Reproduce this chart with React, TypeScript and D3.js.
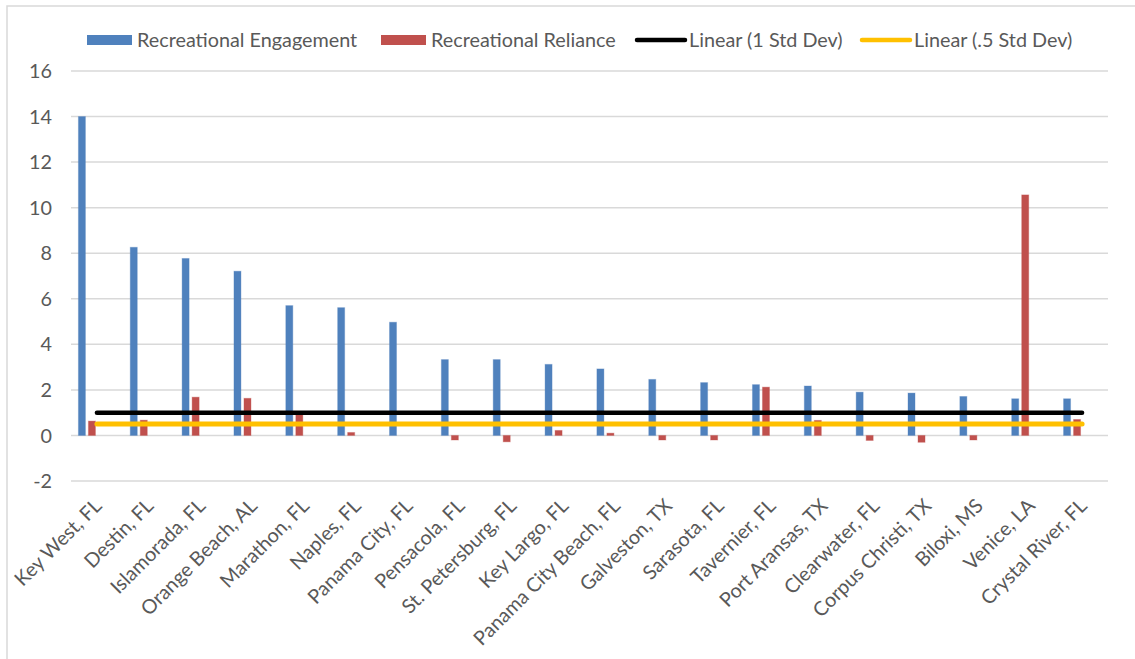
import React from "react";
import * as d3 from "d3";

const categories = [
  "Key West, FL", "Destin, FL", "Islamorada, FL", "Orange Beach, AL", "Marathon, FL",
  "Naples, FL", "Panama City, FL", "Pensacola, FL", "St. Petersburg, FL", "Key Largo, FL",
  "Panama City Beach, FL", "Galveston, TX", "Sarasota, FL", "Tavernier, FL", "Port Aransas, TX",
  "Clearwater, FL", "Corpus Christi, TX", "Biloxi, MS", "Venice, LA", "Crystal River, FL",
];

const engagement = [
  14.0, 8.26, 7.77, 7.21, 5.7, 5.61, 4.97, 3.33, 3.33, 3.12,
  2.92, 2.46, 2.32, 2.23, 2.17, 1.9, 1.86, 1.71, 1.61, 1.61,
];

const reliance = [
  0.63, 0.67, 1.68, 1.63, 0.92, 0.13, 0.0, -0.2, -0.28, 0.22,
  0.1, -0.2, -0.2, 2.12, 0.66, -0.22, -0.3, -0.2, 10.56, 0.7,
];

const seriesNames = ["Recreational Engagement", "Recreational Reliance", "1 Std Dev", ".5 Std Dev"];
const trendLevels = [1, 0.5];
const yTicks = [-2, 0, 2, 4, 6, 8, 10, 12, 14, 16];

const legendItems = [
  { label: "Recreational Engagement", kind: "bar", color: "#4F81BD" },
  { label: "Recreational Reliance", kind: "bar", color: "#C0504D" },
  { label: "Linear (1 Std Dev)", kind: "line", color: "#000000" },
  { label: "Linear (.5 Std Dev)", kind: "line", color: "#FFC000" },
];

const FONT = "Lato, 'Open Sans', sans-serif";
const TEXT = "#595959";
const FS = 19.8;

export default function App() {
  const W = 1135, H = 659;
  const plotLeft = 71, plotRight = 1108;
  const x = d3.scaleBand<string>().domain(categories).range([plotLeft, plotRight]).paddingInner(0).paddingOuter(0);
  const inner = d3.scaleBand<string>().domain(seriesNames).range([0, x.bandwidth()]).paddingInner(0.3).paddingOuter(0.74);
  const y = d3.scaleLinear().domain([-2, 16]).range([481, 71]);
  const bw = inner.bandwidth();

  const firstC = x(categories[0])! + x.bandwidth() / 2;
  const lastC = x(categories[categories.length - 1])! + x.bandwidth() / 2;

  const legendX = [87, 381, 637, 862];
  const legendY = 40;

  const barRect = (v: number, i: number, s: string, color: string) => {
    const x0 = x(categories[i])! + inner(s)!;
    const y0 = Math.min(y(v), y(0));
    const h = Math.abs(y(v) - y(0));
    return <rect key={s + i} x={x0} y={y0} width={bw} height={h} fill={color} stroke={color} strokeOpacity={0.35} strokeWidth={1} />;
  };

  return (
    <svg width={W} height={H} style={{ display: "block", position: "absolute", left: 0, top: 0 }} fontFamily={FONT}>
      <rect x={0} y={0} width={W} height={H} fill="#fff" />
      <rect x={7} y={6} width={W + 10} height={H + 10} fill="none" stroke="#d9d9d9" strokeWidth={1.5} />
      {yTicks.map((t) => (
        <g key={t}>
          <line x1={plotLeft} x2={plotRight} y1={y(t)} y2={y(t)} stroke="#d9d9d9" strokeWidth={1.5} />
          <text x={52} y={y(t)} dy="0.36em" textAnchor="end" fontSize={FS} fill={TEXT}>{t}</text>
        </g>
      ))}
      {engagement.map((v, i) => barRect(v, i, seriesNames[0], "#4F81BD"))}
      {reliance.map((v, i) => barRect(v, i, seriesNames[1], "#C0504D"))}
      <line x1={firstC} x2={lastC} y1={y(trendLevels[0])} y2={y(trendLevels[0])} stroke="#000" strokeWidth={4.5} strokeLinecap="round" />
      <line x1={firstC} x2={lastC} y1={y(trendLevels[1])} y2={y(trendLevels[1])} stroke="#FFC000" strokeWidth={5} strokeLinecap="round" />
      {categories.map((c) => {
        const cx = x(c)! + x.bandwidth() / 2 + 1;
        const cy = 502;
        return (
          <text key={c} x={cx} y={cy} dy="0.36em" textAnchor="end" fontSize={FS} fill={TEXT} transform={`rotate(-45 ${cx} ${cy})`}>{c}</text>
        );
      })}
      {legendItems.map((it, i) => (
        <g key={it.label}>
          {it.kind === "bar" ? (
            <rect x={legendX[i]} y={legendY - 5} width={45} height={10} fill={it.color} />
          ) : (
            <line x1={legendX[i]} x2={legendX[i] + 48} y1={legendY} y2={legendY} stroke={it.color} strokeWidth={4.5} strokeLinecap="round" />
          )}
          <text x={legendX[i] + (it.kind === "bar" ? 50 : 52)} y={legendY} dy="0.36em" fontSize={FS} fill={TEXT}>{it.label}</text>
        </g>
      ))}
    </svg>
  );
}
